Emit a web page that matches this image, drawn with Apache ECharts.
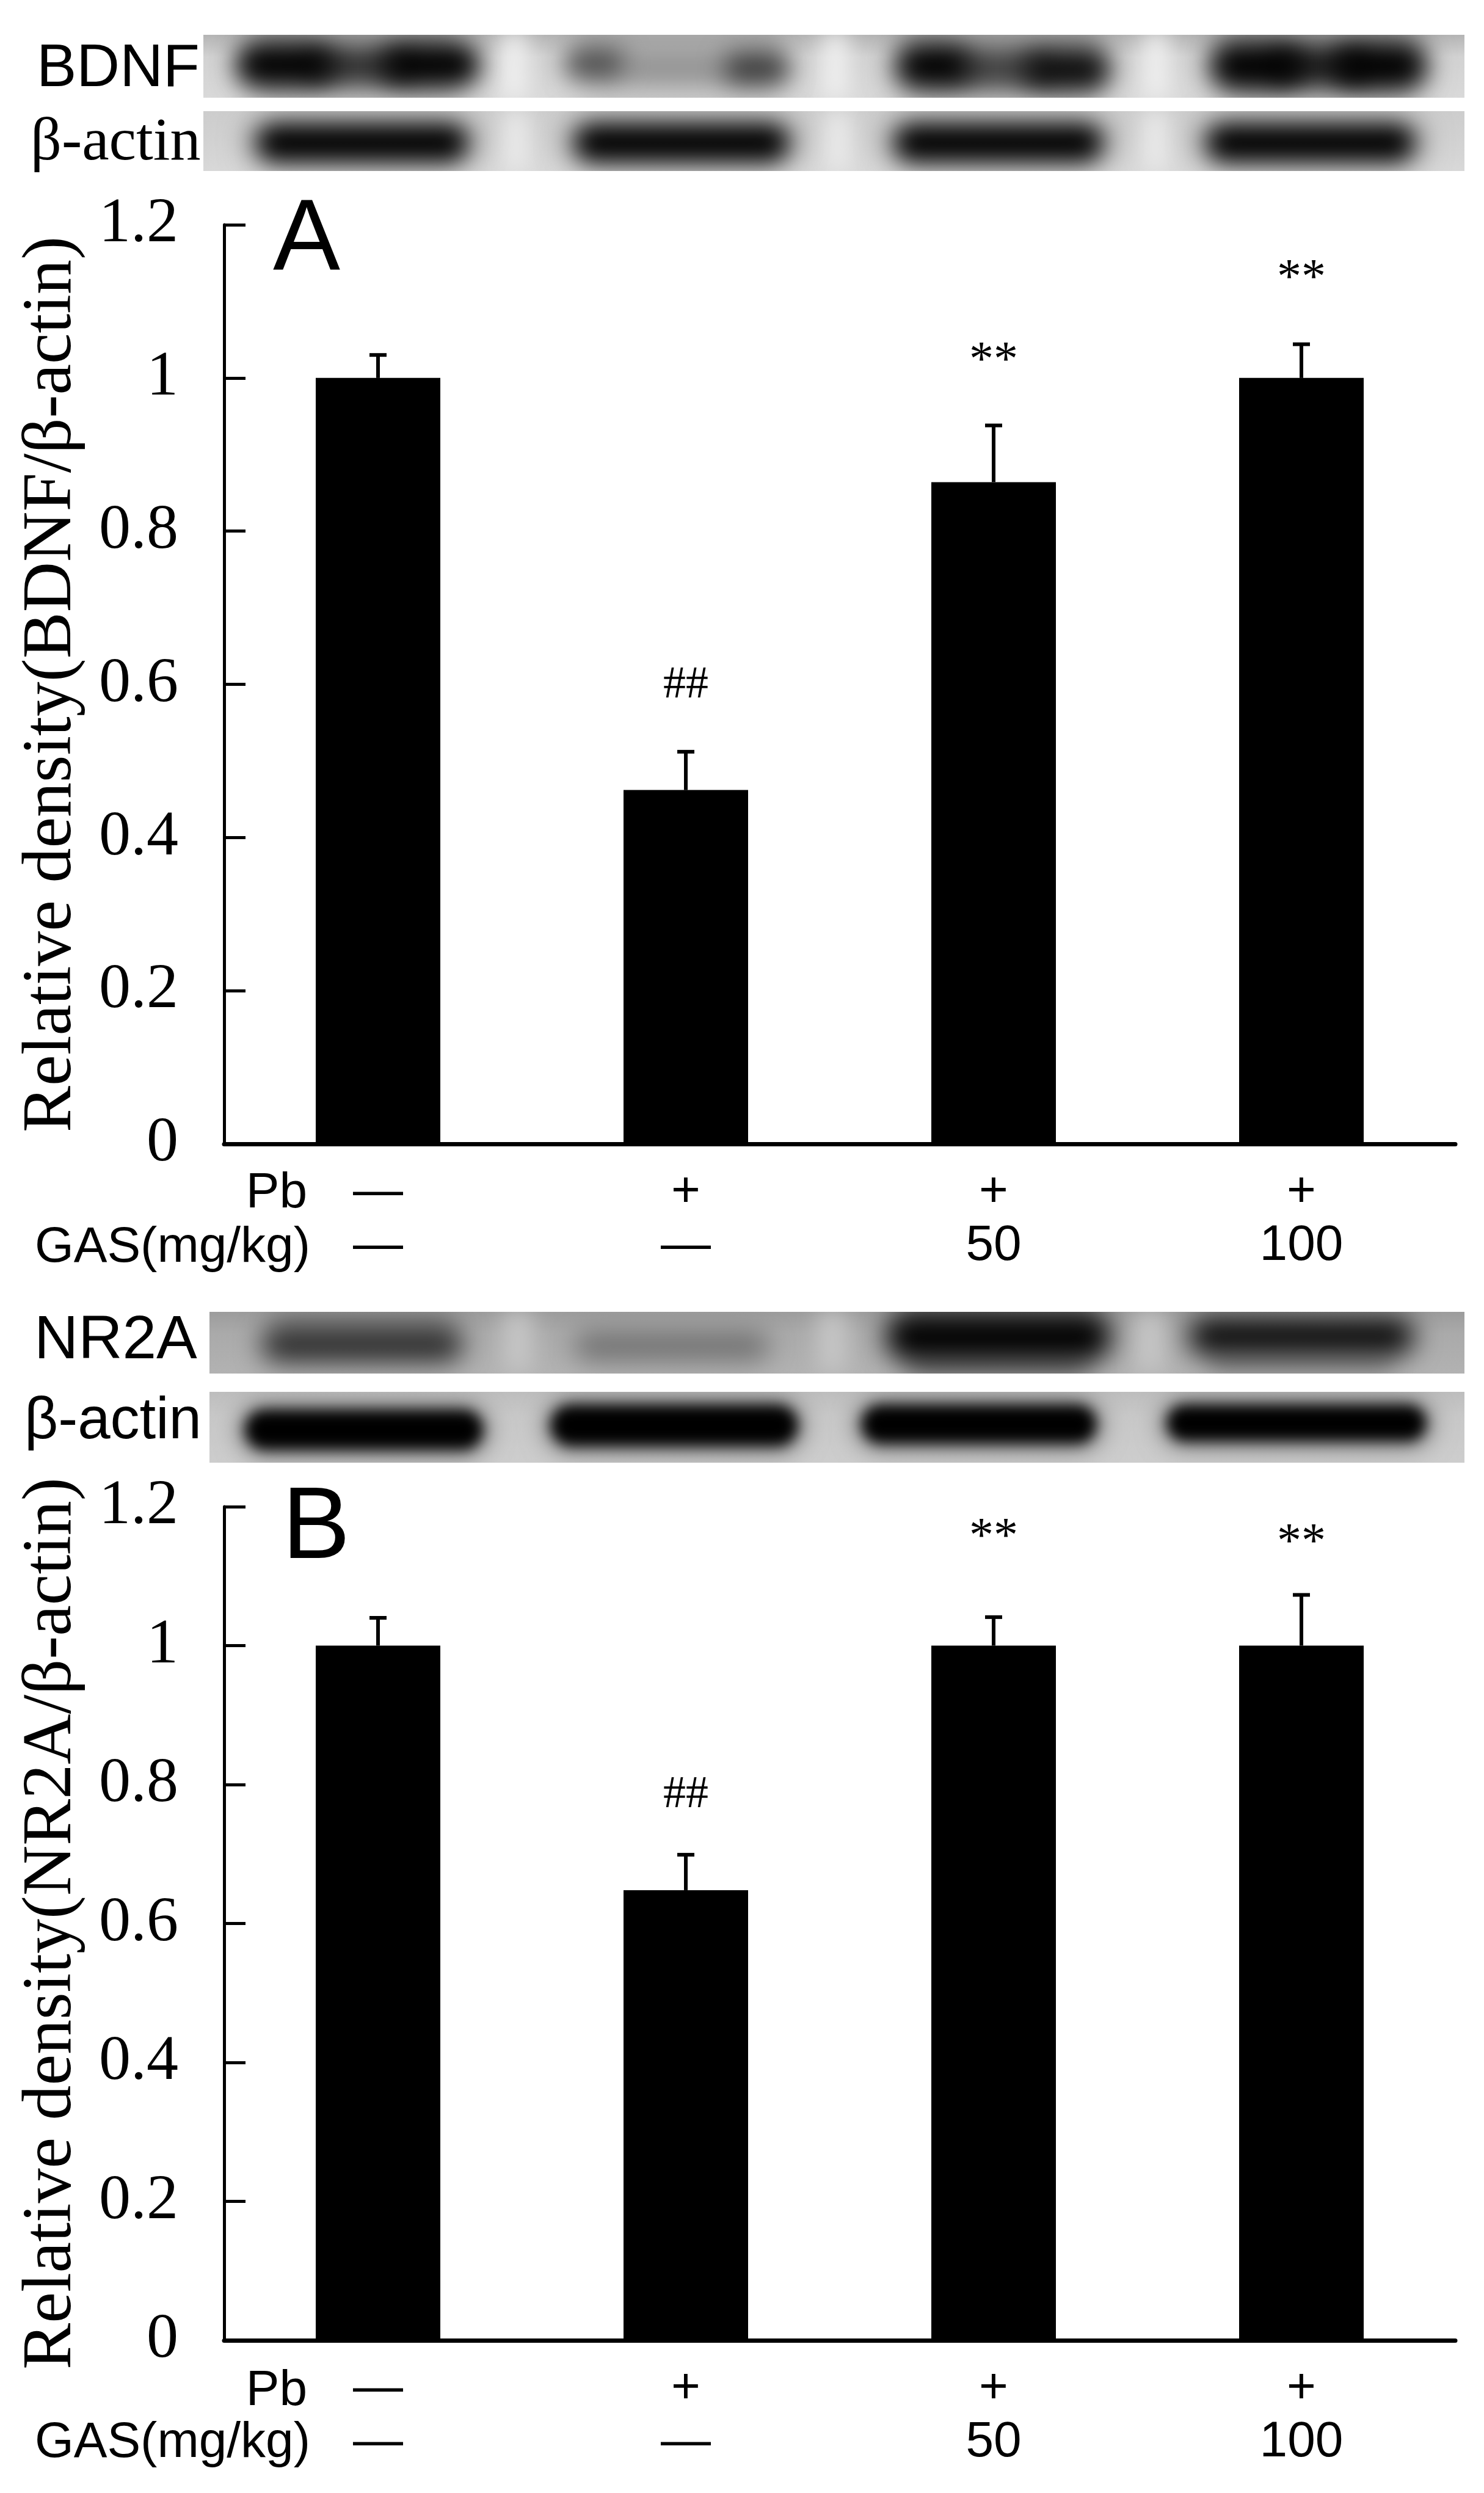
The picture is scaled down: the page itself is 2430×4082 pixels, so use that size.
<!DOCTYPE html>
<html><head><meta charset="utf-8">
<script src="https://cdn.jsdelivr.net/npm/echarts/dist/echarts.min.js"></script>
<style>html,body{margin:0;padding:0;background:#fff}#c{width:2430px;height:4082px}</style>
</head><body><div id="c"></div>
<script>
// ---------- data ----------
const categories = ['Control', 'Pb', 'Pb+GAS50', 'Pb+GAS100'];
const pbRow = ['—', '+', '+', '+'];
const gasRow = ['—', '—', '50', '100'];
const yTickLabels = ['0', '0.2', '0.4', '0.6', '0.8', '1', '1.2'];

const bdnfMean = [1.0, 0.462, 0.864, 1.0];
const bdnfSD = [0.030, 0.050, 0.074, 0.044];
const bdnfSig = ['', '##', '**', '**'];
const bdnfSigAt = [0, 0.598, 1.031, 1.139];   // height (axis units) where each mark is written

const nr2aMean = [1.0, 0.648, 1.0, 1.0];
const nr2aSD = [0.040, 0.051, 0.041, 0.073];
const nr2aSig = ['', '##', '**', '**'];
const nr2aSigAt = [0, 0.785, 1.166, 1.158];

// ---------- helpers ----------
const SERIF = 'Liberation Serif';
const SANS = 'Liberation Sans';

function errRender(sigs) {
  return function (params, api) {
    const i = api.value(0), m = api.value(1), s = api.value(2), at = api.value(3);
    const base = api.coord([i, m]);
    const top = api.coord([i, m + s]);
    const children = [
      { type: 'line', shape: { x1: base[0], y1: base[1], x2: top[0], y2: top[1] }, style: { stroke: '#000', lineWidth: 6 } },
      { type: 'line', shape: { x1: top[0] - 14, y1: top[1], x2: top[0] + 14, y2: top[1] }, style: { stroke: '#000', lineWidth: 6 } }
    ];
    const sig = sigs[params.dataIndex];
    if (sig) {
      const isStar = sig.indexOf('*') >= 0;
      const p = api.coord([i, at]);
      children.push({
        type: 'text',
        x: p[0], y: p[1] + (isStar ? 13 : 0),
        style: { text: sig, align: 'center', verticalAlign: 'middle', fontFamily: SERIF, fontSize: isStar ? 80 : 74, fill: '#000' }
      });
    }
    return { type: 'group', children };
  };
}

// soft (gaussian-blurred) blob: shape is drawn off-canvas, only its shadow lands on the page
const OFF = 6000;
function blob(cx, cy, w, h, color, blur) {
  return { type: 'rect', silent: true,
    shape: { x: cx - w / 2 - OFF, y: cy - h / 2, width: w, height: h, r: Math.min(w, h) / 2 },
    style: { fill: color, shadowBlur: blur, shadowColor: color, shadowOffsetX: OFF } };
}
function strip(cx, cy, w, h, color, blur) {
  return { type: 'rect', silent: true,
    shape: { x: cx - w / 2 - OFF, y: cy - h / 2, width: w, height: h },
    style: { fill: color, shadowBlur: blur, shadowColor: color, shadowOffsetX: OFF } };
}
function box(x, y, w, h, fill) {
  return { type: 'rect', silent: true, shape: { x: x, y: y, width: w, height: h }, style: { fill: fill } };
}
function vgrad(c0, c1, c2) {
  return { type: 'linear', x: 0, y: 0, x2: 0, y2: 1, colorStops: [{ offset: 0, color: c0 }, { offset: 0.35, color: c1 }, { offset: 1, color: c2 }] };
}
function label(text, x, y, family, size, align) {
  return { type: 'text', silent: true, x: x, y: y,
    style: { text: text, fontFamily: family, fontSize: size, fill: '#000', align: align || 'left', verticalAlign: 'middle' } };
}

// ---------- blots (pictures) ----------
const blots = [];
// BDNF blot
blots.push(box(333, 57, 2065, 103, vgrad('#b4b4b4', '#d2d2d2', '#d9d9d9')));
[581, 1112, 1639, 2158].forEach(x => blots.push(blob(x, 68, 330, 36, '#a0a0a0', 36)));
[842, 1368, 1893].forEach(x => blots.push(strip(x, 108, 40, 110, '#f2f2f2', 36)));
// lane halos
blots.push(blob(581, 108, 370, 84, '#7a7a7a', 50));
blots.push(blob(1112, 110, 340, 72, '#a8a8a8', 50));
blots.push(blob(1639, 112, 350, 84, '#7a7a7a', 50));
blots.push(blob(2158, 108, 350, 88, '#6a6a6a', 50));
// doublets
blots.push(blob(588, 108, 170, 44, '#222', 40));
blots.push(blob(468, 106, 160, 66, '#000', 40));
blots.push(blob(705, 106, 160, 66, '#000', 40));
blots.push(blob(1108, 110, 170, 30, '#8a8a8a', 40));
blots.push(blob(975, 104, 100, 48, '#4a4a4a', 40));
blots.push(blob(1238, 112, 110, 52, '#3a3a3a', 40));
blots.push(blob(1638, 112, 160, 42, '#333', 40));
blots.push(blob(1530, 108, 120, 66, '#000', 40));
blots.push(blob(1745, 114, 140, 60, '#0a0a0a', 40));
blots.push(blob(2160, 108, 160, 50, '#111', 40));
blots.push(blob(2060, 108, 150, 68, '#000', 40));
blots.push(blob(2258, 108, 150, 68, '#000', 40));

// beta-actin (A)
blots.push(box(333, 182, 2065, 98, vgrad('#cdcdcd', '#d0d0d0', '#d8d8d8')));
[845, 1372, 1892].forEach(x => blots.push(strip(x, 231, 40, 100, '#ececec', 36)));
[[593, 340], [1116, 345], [1635, 335], [2146, 335]].forEach(l => {
  blots.push(blob(l[0], 232, l[1] + 40, 80, '#8a8a8a', 46));
  blots.push(blob(l[0], 234, l[1], 56, '#000', 36));
});

// NR2A blot
blots.push(box(343, 2148, 2055, 101, vgrad('#9c9c9c', '#aaaaaa', '#b2b2b2')));
[848, 1363, 1883].forEach(x => blots.push(strip(x, 2198, 50, 100, '#c6c6c6', 36)));
blots.push(blob(593, 2168, 300, 36, '#808080', 40));
blots.push(blob(593, 2202, 330, 56, '#2a2a2a', 44));
blots.push(blob(1100, 2204, 320, 46, '#6e6e6e', 44));
blots.push(blob(1635, 2160, 330, 32, '#606060', 40));
blots.push(blob(1635, 2232, 300, 30, '#5a5a5a', 40));
blots.push(blob(1635, 2190, 370, 76, '#000', 44));
blots.push(blob(2131, 2230, 300, 26, '#7a7a7a', 36));
blots.push(blob(2131, 2188, 370, 62, '#0a0a0a', 44));

// beta-actin (B)
blots.push(box(343, 2279, 2055, 116, vgrad('#bdbdbd', '#c8c8c8', '#cdcdcd')));
[[596, 2341, 390, 66], [1104, 2334, 405, 68], [1603, 2332, 385, 64], [2123, 2330, 425, 60]].forEach(l => {
  blots.push(blob(l[0], l[1], l[2] + 30, l[3] + 30, '#909090', 36));
  blots.push(blob(l[0], l[1], l[2], l[3], '#000', 22));
});

// white masks keep the soft edges inside each membrane picture
[
  [326, 0, 2104, 57], [326, 160, 2104, 22], [326, 280, 2104, 54], [2398, 0, 32, 340], [326, 0, 7, 340],
  [336, 2090, 2094, 58], [336, 2249, 2094, 30], [336, 2395, 2094, 46], [2398, 2090, 32, 360], [336, 2090, 7, 360]
].forEach(r => blots.push(box(r[0], r[1], r[2], r[3], '#fff')));

// ---------- texts ----------
const texts = [
  label('BDNF', 60, 114, SANS, 98),
  label('β-actin', 50, 235, SERIF, 100),
  label('NR2A', 56, 2196, SANS, 100),
  label('β-actin', 40, 2329, SANS, 96),
  label('A', 447, 395, SANS, 165),
  label('B', 462, 2505, SANS, 167),
  label('Pb', 503, 1954, SANS, 82, 'right'),
  label('GAS(mg/kg)', 508, 2043, SANS, 82, 'right'),
  label('Pb', 503, 3915, SANS, 82, 'right'),
  label('GAS(mg/kg)', 508, 4000, SANS, 82, 'right')
];

// ---------- axes ----------
function xAxisFor(gi) {
  return {
    type: 'category', gridIndex: gi, data: categories,
    axisLine: { lineStyle: { color: '#000', width: 7 } },
    axisTick: { inside: true, length: 28, lineStyle: { color: '#000', width: 3 } },
    axisLabel: {
      margin: 35, lineHeight: 88, fontFamily: SANS, fontSize: 82, color: '#000',
      formatter: (v, idx) => pbRow[idx] + '\n' + gasRow[idx]
    },
    splitLine: { show: false }
  };
}
function yAxisFor(gi, name) {
  return {
    type: 'value', gridIndex: gi, min: 0, max: 1.2, interval: 0.2,
    name: name, nameLocation: 'middle', nameRotate: 90, nameGap: 225,
    nameTextStyle: { fontFamily: SERIF, fontSize: 114, color: '#000' },
    axisLine: { show: true, lineStyle: { color: '#000', width: 5 } },
    axisTick: { show: true, inside: true, length: 35, lineStyle: { color: '#000', width: 5 } },
    axisLabel: { margin: 75, fontFamily: SERIF, fontSize: 104, color: '#000',
      formatter: v => yTickLabels[Math.round(v / 0.2)] },
    splitLine: { show: false }
  };
}

const chart = echarts.init(document.getElementById('c'), null, { renderer: 'canvas' });
chart.setOption({
  animation: false,
  backgroundColor: '#fff',
  grid: [
    { left: 367, top: 368, width: 2016, height: 1505 },
    { left: 367, top: 2467, width: 2016, height: 1365 }
  ],
  xAxis: [xAxisFor(0), xAxisFor(1)],
  yAxis: [yAxisFor(0, 'Relative density(BDNF/β-actin)'), yAxisFor(1, 'Relative density(NR2A/β-actin)')],
  series: [
    { type: 'bar', xAxisIndex: 0, yAxisIndex: 0, data: bdnfMean, barWidth: 204, itemStyle: { color: '#000' } },
    { type: 'custom', xAxisIndex: 0, yAxisIndex: 0, data: bdnfMean.map((m, i) => [i, m, bdnfSD[i], bdnfSigAt[i]]),
      encode: { x: 0, y: 1 }, renderItem: errRender(bdnfSig), z: 5 },
    { type: 'bar', xAxisIndex: 1, yAxisIndex: 1, data: nr2aMean, barWidth: 204, itemStyle: { color: '#000' } },
    { type: 'custom', xAxisIndex: 1, yAxisIndex: 1, data: nr2aMean.map((m, i) => [i, m, nr2aSD[i], nr2aSigAt[i]]),
      encode: { x: 0, y: 1 }, renderItem: errRender(nr2aSig), z: 5 }
  ],
  graphic: { elements: blots.concat(texts) }
});
</script>
</body></html>
